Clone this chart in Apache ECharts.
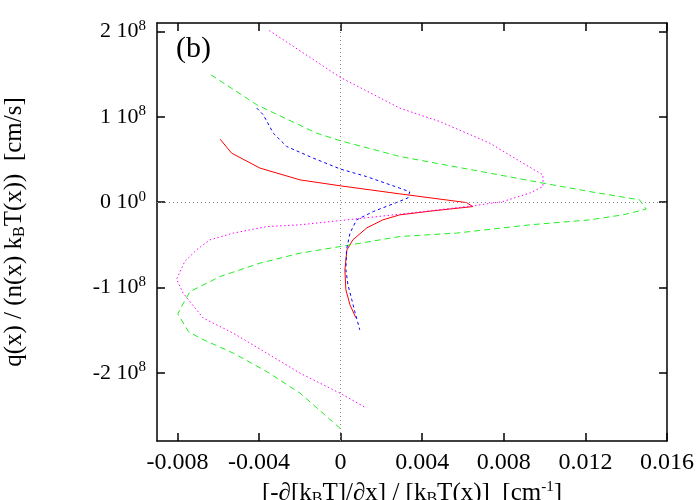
<!DOCTYPE html>
<html>
<head>
<meta charset="utf-8">
<script src="https://cdn.jsdelivr.net/npm/echarts@6/dist/echarts.min.js"></script>
<style>
  html, body { margin: 0; padding: 0; background: #fff; }
  #main { width: 700px; height: 500px; }
</style>
</head>
<body>
<div id="main"></div>
<script>
// curves: [x, y] with y in cm/s
const redX = [-0.00591, -0.00534, -0.00395, -0.00199, 0, 0.00290, 0.00617, 0.00648, 0.00452, 0.00290, 0.00207, 0.00129, 0.00060, 0.00031, 0.00021, 0.00026, 0.00046, 0.00075];
const redY = [0.739, 0.574, 0.399, 0.261, 0.191, 0.097, -0.005, -0.052, -0.102, -0.149, -0.208, -0.301, -0.442, -0.560, -0.794, -1.028, -1.204, -1.356];

const blueX = [-0.00411, -0.00379, -0.00330, -0.00264, -0.00134, 0, 0.00127, 0.00290, 0.00339, 0.00330, 0.00274, 0.00160, 0.00078, 0.00046, 0.00029, 0.00026, 0.00036, 0.00055, 0.00070, 0.00094];
const blueY = [1.102, 1.024, 0.809, 0.652, 0.516, 0.387, 0.300, 0.164, 0.121, 0.050, -0.005, -0.110, -0.208, -0.363, -0.559, -0.794, -0.969, -1.145, -1.286, -1.497];

const greenX = [-0.00635, -0.00411, -0.00118, 0, 0.00290, 0.00731, 0.00992, 0.01221, 0.01465, 0.01498, 0.01384, 0.01221, 0.00927, 0.00568, 0.00290, -0.00003, -0.00199, -0.00395, -0.00591, -0.00738, -0.00762, -0.00798, -0.00746, -0.00689, -0.00526, -0.00362, -0.00199, -0.00003];
const greenY = [1.492, 1.141, 0.809, 0.719, 0.535, 0.340, 0.223, 0.124, 0.027, -0.082, -0.149, -0.208, -0.266, -0.363, -0.403, -0.521, -0.598, -0.715, -0.872, -1.048, -1.146, -1.309, -1.517, -1.594, -1.770, -1.986, -2.239, -2.650];

const magentaX = [-0.00350, -0.00003, 0.00290, 0.00486, 0.00731, 0.00894, 0.00992, 0.00992, 0.00927, 0.00796, 0.00649, 0.00339, -0.00003, -0.00199, -0.00362, -0.00526, -0.00641, -0.00706, -0.00764, -0.00804, -0.00772, -0.00673, -0.00526, -0.00362, -0.00199, -0.00003, 0.00127];
const magentaY = [2.012, 1.465, 1.102, 0.945, 0.692, 0.457, 0.320, 0.183, 0.106, 0.007, -0.043, -0.129, -0.216, -0.266, -0.286, -0.363, -0.442, -0.559, -0.696, -0.903, -1.067, -1.360, -1.536, -1.770, -2.005, -2.239, -2.415];

const yScale = 1e8;
const xTicks = [-0.008, -0.004, 0, 0.004, 0.008, 0.012, 0.016];
const xTickLabels = ['-0.008', '-0.004', '0', '0.004', '0.008', '0.012', '0.016'];
const yTicks = [-2e8, -1e8, 0, 1e8, 2e8];
const yTickLabels = ['-2 10{sup|8}', '-1 10{sup|8}', '0 10{sup|0}', '1 10{sup|8}', '2 10{sup|8}'];

function pairs(xs, ys) {
  return xs.map((x, i) => [x, ys[i] * yScale]);
}

const serif = 'Liberation Serif';
const supStyle = { fontFamily: serif, fontSize: 15, verticalAlign: 'top', padding: [0, 0, 11, 0], color: '#000' };
const subStyle = { fontFamily: serif, fontSize: 16, padding: [11, 0, 0, 0], color: '#000' };

const chart = echarts.init(document.getElementById('main'));

function xAxisCfg(pos, showLabel) {
  return {
    type: 'value', position: pos, min: -0.009, max: 0.016,
    axisLine: { show: true, onZero: false, lineStyle: { color: '#000', width: 1.5 } },
    axisTick: { show: true, inside: true, length: 8, customValues: xTicks, lineStyle: { color: '#000', width: 1.5 } },
    axisLabel: {
      show: showLabel, customValues: xTicks, margin: 10,
      fontFamily: serif, fontSize: 24, color: '#000',
      formatter: v => xTickLabels[xTicks.findIndex(t => Math.abs(t - v) < 1e-9)]
    },
    splitLine: { show: false }
  };
}

function yAxisCfg(pos, showLabel) {
  return {
    type: 'value', position: pos, min: -2.8e8, max: 2.1e8,
    axisLine: { show: true, onZero: false, lineStyle: { color: '#000', width: 1.5 } },
    axisTick: { show: true, inside: true, length: 8, customValues: yTicks, lineStyle: { color: '#000', width: 1.5 } },
    axisLabel: {
      show: showLabel, customValues: yTicks, margin: 11,
      fontFamily: serif, fontSize: 22, color: '#000',
      formatter: v => yTickLabels[yTicks.findIndex(t => Math.abs(t - v) < 1)],
      rich: { sup: supStyle }
    },
    splitLine: { show: false }
  };
}

const xMain = xAxisCfg('bottom', true);
xMain.name = '[-\u2202[k{sub|B}T]/\u2202x] / [k{sub|B}T(x)]  [cm{sup|-1}]';
xMain.nameLocation = 'middle';
xMain.nameGap = 34;
xMain.nameTextStyle = { fontFamily: serif, fontSize: 25, color: '#000', rich: { sub: subStyle, sup: supStyle } };

const yMain = yAxisCfg('left', true);
yMain.name = 'q(x) / (n(x) k{sub|B}T(x))  [cm/s]';
yMain.nameLocation = 'middle';
yMain.nameGap = 129;
yMain.nameTextStyle = { fontFamily: serif, fontSize: 25, color: '#000', rich: { sub: subStyle, sup: supStyle } };

function lineSeries(name, xs, ys, color, dash) {
  return {
    name: name, type: 'line', data: pairs(xs, ys),
    xAxisIndex: 0, yAxisIndex: 0,
    showSymbol: false, symbol: 'none', smooth: false,
    lineStyle: { color: color, width: 1, type: dash },
    animation: false
  };
}

const red = lineSeries('red', redX, redY, '#ff0000', 'solid');
red.markLine = {
  silent: true, symbol: 'none', label: { show: false }, animation: false,
  lineStyle: { color: '#888', width: 1, type: [1, 3] },
  data: [{ xAxis: 0 }, { yAxis: 0 }]
};

const option = {
  animation: false,
  grid: { left: 157, right: 33, top: 23, bottom: 59, outerBoundsMode: 'none' },
  xAxis: [xMain, xAxisCfg('top', false)],
  yAxis: [yMain, yAxisCfg('right', false)],
  graphic: [{
    type: 'text', left: 176, top: 34,
    style: { text: '(b)', fontFamily: serif, fontSize: 30, fill: '#000' }
  }],
  series: [
    red,
    lineSeries('green', greenX, greenY, '#22ee22', [6, 4]),
    lineSeries('blue', blueX, blueY, '#0000ff', [3, 3]),
    lineSeries('magenta', magentaX, magentaY, '#ff00ff', [1.5, 2.5])
  ]
};

option && chart.setOption(option);
</script>
</body>
</html>
